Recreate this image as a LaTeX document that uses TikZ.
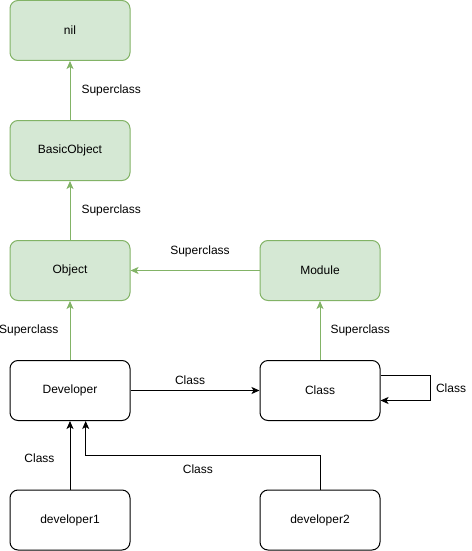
\documentclass[tikz,border=0pt]{standalone}
\usepackage{fontspec}
\setmainfont{Liberation Sans}
\usetikzlibrary{arrows.meta,positioning}

\definecolor{boxfill}{HTML}{D5E8D4}
\definecolor{boxline}{HTML}{82B366}

\tikzset{
    cls/.style={draw, rounded corners=8pt, minimum width=120pt, minimum height=60pt, line width=1pt, inner sep=0pt},
    supcls/.style={cls, fill=boxfill, draw=boxline},
    supedge/.style={draw=boxline, line width=1pt, -{Stealth[length=8pt,width=7pt,inset=2pt]}},
    insedge/.style={draw=black, line width=1pt, -{Stealth[length=8pt,width=7pt,inset=2pt]}},
    lbl/.style={inner sep=0pt, font=\fontsize{12}{14}\selectfont}
}

\begin{document}
\begin{tikzpicture}[x=1pt, y=-1pt, font=\fontsize{12}{14}\selectfont]
            \useasboundingbox (0,0) rectangle (471,551);

            \node[supcls] (nil) at (70,30.5) {nil};
            \node[supcls] (basic) at (70,150.5) {BasicObject};
            \node[supcls] (object) at (70,270.5) {Object};
            \node[supcls] (module) at (320,270.5) {Module};

            \node[cls] (dev) at (70,390.5) {Developer};
            \node[cls] (class) at (320,390.5) {Class};
            \node[cls] (dev1) at (70,520) {developer1};
            \node[cls] (dev2) at (320,520) {developer2};

            % superclass chain
            \draw[supedge] (basic) -- node[lbl, right=11pt] {Superclass} (nil);
            \draw[supedge] (object) -- node[lbl, right=11pt] {Superclass} (basic);
            \draw[supedge] (module) -- node[lbl, above=13pt, xshift=5pt] {Superclass} (object);
            \draw[supedge] (dev) -- node[lbl, left=11pt] {Superclass} (object);
            \draw[supedge] (class) -- node[lbl, right=10pt] {Superclass} (module);

            % class links
            \draw[insedge] (dev) -- node[lbl, above=5pt, xshift=-5pt] {Class} (class);
            \draw[insedge] ([yshift=15pt]class.east) -- ++(50,0) |- node[lbl, right=5pt, pos=0.25] {Class} ([yshift=-10pt]class.east);
            \draw[insedge] (dev1) -- node[lbl, left=15pt, yshift=-3pt] {Class} (dev);

            \coordinate (bend) at (320,455.7);
            \coordinate (devin) at ([xshift=15.7pt]dev.south);
            \draw[insedge] (dev2) -- (bend) -| node[lbl, below=9pt, pos=0.25, xshift=-5pt] {Class} (devin);

        \end{tikzpicture}
\end{document}
